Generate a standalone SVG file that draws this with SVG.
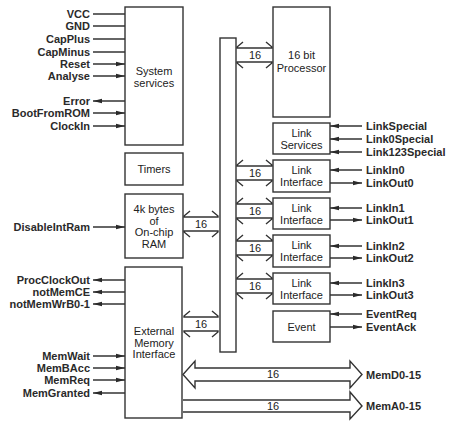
<svg xmlns="http://www.w3.org/2000/svg" width="460" height="425" viewBox="0 0 460 425">
<defs>
<marker id="ah" markerUnits="userSpaceOnUse" markerWidth="9" markerHeight="6" refX="9" refY="3" orient="auto">
<path d="M0,0.8 L9,3 L0,5.2 z" fill="#2a2a2a"/>
</marker>
<style>
.box{fill:#fff;stroke:#333;stroke-width:1.4}
.bt{font-family:"Liberation Sans",Arial,sans-serif;font-size:11px;fill:#222;text-anchor:middle}
.sl{font-family:"Liberation Sans",Arial,sans-serif;font-size:11px;font-weight:bold;fill:#2a2a2a}
.l{text-anchor:end}
.w{stroke:#333;stroke-width:1.4;fill:none}
.s{stroke:#333;stroke-width:1.5;fill:none}
.a{marker-end:url(#ah)}
.n{font-family:"Liberation Sans",Arial,sans-serif;font-size:11px;fill:#222;text-anchor:middle}
</style>
</defs>
<rect width="460" height="425" fill="#fff"/>

<g id="connectors">
<line class="s" x1="93" y1="14" x2="125" y2="14"/>
<line class="s" x1="93" y1="26" x2="125" y2="26"/>
<line class="s" x1="93" y1="39" x2="125" y2="39"/>
<line class="s" x1="93" y1="52" x2="125" y2="52"/>
<line class="s a" x1="93" y1="64" x2="125" y2="64"/>
<line class="s a" x1="93" y1="76" x2="125" y2="76"/>
<line class="s a" x1="125" y1="101" x2="93" y2="101"/>
<line class="s a" x1="93" y1="113" x2="125" y2="113"/>
<line class="s a" x1="93" y1="126" x2="125" y2="126"/>
<line class="s a" x1="93" y1="227" x2="125" y2="227"/>
<line class="s a" x1="125" y1="280" x2="93" y2="280"/>
<line class="s a" x1="125" y1="292" x2="93" y2="292"/>
<line class="s a" x1="125" y1="304" x2="93" y2="304"/>
<line class="s a" x1="93" y1="356" x2="125" y2="356"/>
<line class="s a" x1="93" y1="368" x2="125" y2="368"/>
<line class="s a" x1="93" y1="380" x2="125" y2="380"/>
<line class="s a" x1="125" y1="393" x2="93" y2="393"/>
<line class="s a" x1="362" y1="126" x2="330" y2="126"/>
<line class="s a" x1="362" y1="139" x2="330" y2="139"/>
<line class="s a" x1="362" y1="152" x2="330" y2="152"/>
<line class="s a" x1="362" y1="170" x2="330" y2="170"/>
<line class="s a" x1="330" y1="183" x2="362" y2="183"/>
<line class="s a" x1="362" y1="208" x2="330" y2="208"/>
<line class="s a" x1="330" y1="220" x2="362" y2="220"/>
<line class="s a" x1="362" y1="246" x2="330" y2="246"/>
<line class="s a" x1="330" y1="258" x2="362" y2="258"/>
<line class="s a" x1="362" y1="283" x2="330" y2="283"/>
<line class="s a" x1="330" y1="295" x2="362" y2="295"/>
<line class="s a" x1="362" y1="314" x2="330" y2="314"/>
<line class="s a" x1="330" y1="327" x2="362" y2="327"/>

<path class="w" d="M243,42 L237,47 L237,48 L272,48 L272,47 L266,42 M243,68 L237,63 L237,62 L272,62 L272,63 L266,68"/>
<path class="w" d="M243,160 L237,165 L237,166 L272,166 L272,165 L266,160 M243,186 L237,181 L237,180 L272,180 L272,181 L266,186"/>
<path class="w" d="M243,198 L237,203 L237,204 L272,204 L272,203 L266,198 M243,224 L237,219 L237,218 L272,218 L272,219 L266,224"/>
<path class="w" d="M243,235 L237,240 L237,241 L272,241 L272,240 L266,235 M243,261 L237,256 L237,255 L272,255 L272,256 L266,261"/>
<path class="w" d="M243,273 L237,278 L237,279 L272,279 L272,278 L266,273 M243,299 L237,294 L237,293 L272,293 L272,294 L266,299"/>
<path class="w" d="M190,211 L184,216 L184,217 L218,217 L218,216 L212,211 M190,237 L184,232 L184,231 L218,231 L218,232 L212,237"/>
<path class="w" d="M190,311 L184,316 L184,317 L218,317 L218,316 L212,311 M190,337 L184,332 L184,331 L218,331 L218,332 L212,337"/>
<text class="n" x="255" y="59">16</text>
<text class="n" x="255" y="177">16</text>
<text class="n" x="255" y="215">16</text>
<text class="n" x="255" y="252">16</text>
<text class="n" x="255" y="290">16</text>
<text class="n" x="201" y="228">16</text>
<text class="n" x="201" y="328">16</text>

<path class="w" d="M350,368 L195,368 L195,361 L183,374.5 L195,388 L195,381 L350,381 L350,388 L362,374.5 L350,361 Z"/>
<path class="w" d="M183,400 L350,400 L350,392 L362,406 L350,419 L350,412 L183,412"/>
<text class="n" x="273" y="378">16</text>
<text class="n" x="273" y="410">16</text>
</g>

<g id="signal-labels">
<text class="sl l" x="90" y="18">VCC</text>
<text class="sl l" x="90" y="30">GND</text>
<text class="sl l" x="90" y="43">CapPlus</text>
<text class="sl l" x="90" y="56">CapMinus</text>
<text class="sl l" x="90" y="68">Reset</text>
<text class="sl l" x="90" y="80">Analyse</text>
<text class="sl l" x="90" y="105">Error</text>
<text class="sl l" x="90" y="117">BootFromROM</text>
<text class="sl l" x="90" y="130">ClockIn</text>
<text class="sl l" x="90" y="231">DisableIntRam</text>
<text class="sl l" x="90" y="284">ProcClockOut</text>
<text class="sl l" x="90" y="296">notMemCE</text>
<text class="sl l" x="90" y="308">notMemWrB0-1</text>
<text class="sl l" x="90" y="360">MemWait</text>
<text class="sl l" x="90" y="372">MemBAcc</text>
<text class="sl l" x="90" y="384">MemReq</text>
<text class="sl l" x="90" y="397">MemGranted</text>
<text class="sl" x="366" y="130">LinkSpecial</text>
<text class="sl" x="366" y="143">Link0Special</text>
<text class="sl" x="366" y="156">Link123Special</text>
<text class="sl" x="366" y="174">LinkIn0</text>
<text class="sl" x="366" y="187">LinkOut0</text>
<text class="sl" x="366" y="212">LinkIn1</text>
<text class="sl" x="366" y="224">LinkOut1</text>
<text class="sl" x="366" y="250">LinkIn2</text>
<text class="sl" x="366" y="262">LinkOut2</text>
<text class="sl" x="366" y="287">LinkIn3</text>
<text class="sl" x="366" y="299">LinkOut3</text>
<text class="sl" x="366" y="318">EventReq</text>
<text class="sl" x="366" y="331">EventAck</text>
<text class="sl" x="366" y="379">MemD0-15</text>
<text class="sl" x="366" y="410">MemA0-15</text>
</g>

<g id="system-services">
<rect class="box" x="125" y="7" width="58" height="138"/>
<text class="bt" x="154" y="75">System</text>
<text class="bt" x="154" y="87">services</text>
</g>
<g id="timers">
<rect class="box" x="125" y="153" width="58" height="32"/>
<text class="bt" x="154" y="173">Timers</text>
</g>
<g id="ram">
<rect class="box" x="125" y="194" width="58" height="64"/>
<text class="bt" x="154" y="213">4k bytes</text>
<text class="bt" x="154" y="225">of</text>
<text class="bt" x="154" y="236">On-chip</text>
<text class="bt" x="154" y="248">RAM</text>
</g>
<g id="external-memory-interface">
<rect class="box" x="125" y="267" width="57" height="151"/>
<text class="bt" x="154" y="335">External</text>
<text class="bt" x="154" y="347">Memory</text>
<text class="bt" x="154" y="358">Interface</text>
</g>
<g id="bus">
<rect class="box" x="220" y="38" width="16" height="314"/>
</g>
<g id="processor">
<rect class="box" x="273" y="7" width="57" height="110"/>
<text class="bt" x="301.5" y="59">16 bit</text>
<text class="bt" x="301.5" y="72">Processor</text>
</g>
<g id="link-services">
<rect class="box" x="273" y="123" width="57" height="31"/>
<text class="bt" x="301.5" y="137">Link</text>
<text class="bt" x="301.5" y="149">Services</text>
</g>
<g id="link-interface-0">
<rect class="box" x="273" y="160" width="57" height="32"/>
<text class="bt" x="301.5" y="174">Link</text>
<text class="bt" x="301.5" y="186">Interface</text>
</g>
<g id="link-interface-1">
<rect class="box" x="273" y="198" width="57" height="31"/>
<text class="bt" x="301.5" y="212">Link</text>
<text class="bt" x="301.5" y="224">Interface</text>
</g>
<g id="link-interface-2">
<rect class="box" x="273" y="235" width="57" height="32"/>
<text class="bt" x="301.5" y="249">Link</text>
<text class="bt" x="301.5" y="261">Interface</text>
</g>
<g id="link-interface-3">
<rect class="box" x="273" y="273" width="57" height="31"/>
<text class="bt" x="301.5" y="287">Link</text>
<text class="bt" x="301.5" y="299">Interface</text>
</g>
<g id="event">
<rect class="box" x="273" y="311" width="57" height="31"/>
<text class="bt" x="301.5" y="331">Event</text>
</g>
</svg>
